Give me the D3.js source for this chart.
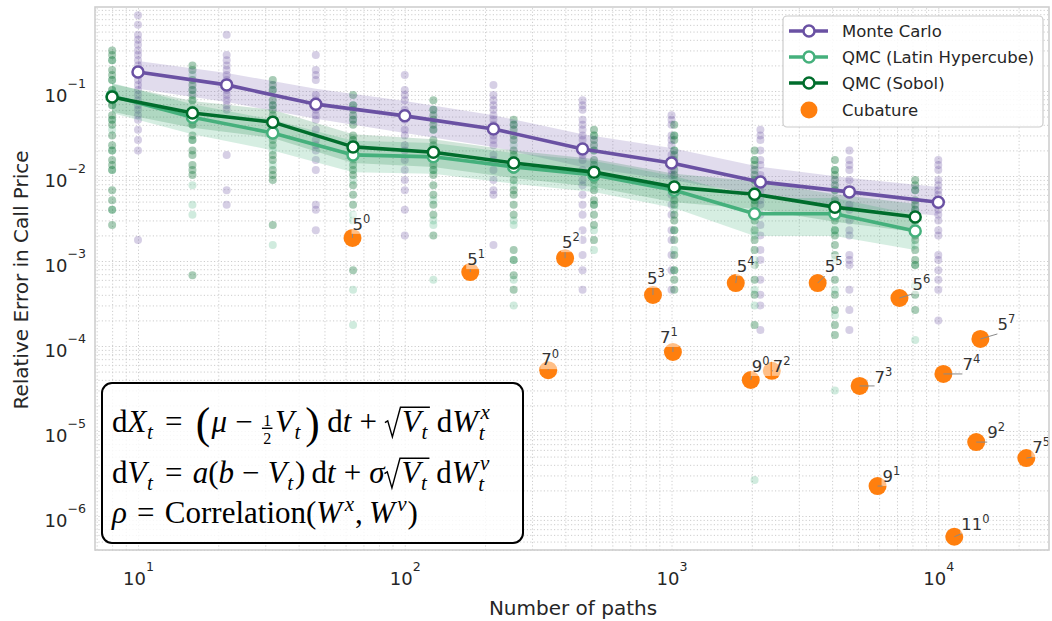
<!DOCTYPE html>
<html>
<head>
<meta charset="utf-8">
<script src="https://cdn.jsdelivr.net/npm/d3@7/dist/d3.min.js"></script>
<style>
html,body{margin:0;padding:0;background:#fff;}
svg{display:block;}
</style>
</head>
<body>
<svg id="chart" width="1052" height="621"></svg>
<script>
// ================= DATA =================
const mcPaths  = [10, 21.5, 46.4, 100, 215, 464, 1000, 2154, 4642, 10000];
const qmcPaths = [8, 16, 32, 64, 128, 256, 512, 1024, 2048, 4096, 8192];

const mcMean  = [0.167, 0.118, 0.070, 0.051, 0.0357, 0.0208, 0.0142, 0.0085, 0.0065, 0.0049];
const mcLower = [0.106, 0.074, 0.047, 0.032, 0.022, 0.0128, 0.0090, 0.0060, 0.0043, 0.0034];
const mcUpper = [0.225, 0.163, 0.106, 0.076, 0.052, 0.031, 0.0213, 0.0128, 0.0095, 0.0074];

const lhsMean  = [0.087, 0.049, 0.032, 0.0177, 0.0168, 0.0128, 0.0103, 0.0068, 0.0036, 0.0036, 0.00225];
const lhsLower = [0.055, 0.031, 0.020, 0.0111, 0.0106, 0.0081, 0.0065, 0.0042, 0.00197, 0.00197, 0.00135];
const lhsUpper = [0.124, 0.070, 0.046, 0.026, 0.0244, 0.0187, 0.015, 0.010, 0.0055, 0.0055, 0.0035];

const sobolMean  = [0.085, 0.055, 0.043, 0.022, 0.019, 0.0142, 0.0111, 0.0074, 0.0061, 0.0043, 0.0033];
const sobolLower = [0.057, 0.037, 0.028, 0.0142, 0.0128, 0.0095, 0.0074, 0.0049, 0.0041, 0.0029, 0.0022];
const sobolUpper = [0.121, 0.076, 0.060, 0.031, 0.027, 0.020, 0.0158, 0.0106, 0.0087, 0.0061, 0.0047];

// individual runs (one list per number of paths)
const mcSamples = [
  [0.78,0.60,0.46,0.40,0.35,0.30,0.265,0.23,0.20,0.177,0.154,0.135,0.118,0.103,0.090,0.078,0.068,0.060,0.052,0.046,0.035,0.0265,0.020,0.00177],
  [0.46,0.265,0.23,0.20,0.177,0.154,0.135,0.118,0.103,0.090,0.078,0.068,0.060,0.0177,0.0068,0.0046],
  [0.265,0.177,0.154,0.135,0.090,0.078,0.060,0.052,0.046,0.035,0.0265,0.023,0.020,0.0154,0.0118,0.0046,0.0040,0.0023],
  [0.154,0.103,0.090,0.078,0.060,0.052,0.046,0.035,0.030,0.023,0.020,0.0154,0.0118,0.0090,0.0068,0.0040,0.0020],
  [0.118,0.090,0.078,0.068,0.060,0.052,0.046,0.040,0.030,0.0265,0.023,0.0177,0.0154,0.0118,0.0090,0.0068,0.0060,0.00154],
  [0.078,0.068,0.060,0.046,0.040,0.035,0.030,0.0265,0.020,0.0177,0.0154,0.0118,0.0090,0.0078,0.0060,0.0046,0.0035,0.0023,0.00177,0.00118,0.00078,0.00046],
  [0.052,0.046,0.040,0.030,0.0265,0.023,0.0177,0.0154,0.0118,0.0103,0.0078,0.0060,0.0046,0.0035,0.0023,0.00177,0.00118,0.00078,0.00046],
  [0.035,0.030,0.0265,0.020,0.0154,0.0135,0.0103,0.0090,0.0068,0.0052,0.0046,0.0035,0.00265,0.0020,0.00135,0.00103,0.00060,0.00040,0.00030,0.000154],
  [0.020,0.0154,0.0135,0.0118,0.0090,0.0068,0.0060,0.0046,0.0040,0.0030,0.0023,0.0020,0.00118,0.00103,0.00090,0.00046,0.000265,0.000154],
  [0.0154,0.0135,0.0118,0.0090,0.0078,0.0068,0.0060,0.0052,0.0040,0.0035,0.0030,0.0023,0.0020,0.00118,0.00103,0.00078,0.00060,0.00046,0.00020]
];
const sobolSamples = [
  [0.30,0.265,0.23,0.177,0.154,0.135,0.103,0.090,0.078,0.068,0.052,0.046,0.040,0.030,0.023,0.020,0.0154,0.0135,0.0118,0.0068,0.0052,0.0040,0.00265],
  [0.20,0.177,0.135,0.118,0.103,0.090,0.078,0.060,0.052,0.046,0.040,0.030,0.0265,0.020,0.0177,0.0135,0.0118,0.0103,0.00068],
  [0.135,0.118,0.103,0.078,0.068,0.060,0.052,0.046,0.035,0.030,0.0265,0.023,0.0177,0.0154,0.0118,0.0103,0.0090,0.00265],
  [0.090,0.068,0.060,0.052,0.046,0.040,0.030,0.0265,0.023,0.020,0.0177,0.0135,0.0118,0.0103,0.0078,0.0060,0.0046,0.00078],
  [0.078,0.060,0.052,0.046,0.040,0.035,0.0265,0.023,0.020,0.0177,0.0135,0.0118,0.0103,0.0078,0.0060,0.0046,0.0035,0.0020],
  [0.046,0.040,0.035,0.030,0.0265,0.020,0.0177,0.0154,0.0135,0.0118,0.0090,0.0068,0.0060,0.0046,0.0035,0.00135,0.00103,0.00068,0.00046],
  [0.035,0.030,0.0265,0.023,0.020,0.0154,0.0135,0.0118,0.0103,0.0090,0.0068,0.0052,0.0046,0.0035,0.00265,0.00177],
  [0.040,0.030,0.0265,0.020,0.0177,0.0154,0.0118,0.0103,0.0078,0.0068,0.0052,0.0046,0.0035,0.0030,0.0023,0.00177,0.00118,0.00078,0.00060,0.00046],
  [0.020,0.0154,0.0135,0.0118,0.0103,0.0090,0.0068,0.0060,0.0052,0.0046,0.0035,0.0030,0.0023,0.00177,0.00135,0.00090,0.00060,0.00040,0.000177],
  [0.0154,0.0118,0.0103,0.0090,0.0078,0.0068,0.0052,0.0046,0.0040,0.0030,0.0023,0.0020,0.00154,0.00118,0.00060,0.00040,0.000265,0.000177,0.000135],
  [0.0090,0.0078,0.0068,0.0052,0.0046,0.0040,0.0035,0.0030,0.0023,0.0020,0.00177,0.00135,0.00103,0.00090,0.00040,0.000265]
];
const lhsSamples = [
  [0.23,0.135,0.103,0.068,0.046,0.035,0.020,0.0118,0.0040],
  [0.154,0.103,0.078,0.060,0.040,0.0265,0.0078,0.0046,0.0035],
  [0.103,0.068,0.046,0.030,0.020,0.0135,0.00154],
  [0.068,0.046,0.0265,0.0154,0.0090,0.0035,0.0030,0.00046,0.000177],
  [0.060,0.035,0.020,0.0118,0.0052,0.0030,0.00265,0.00060],
  [0.040,0.023,0.0135,0.0078,0.0030,0.00265,0.00103,0.00060,0.00030],
  [0.030,0.020,0.0118,0.0078,0.0046,0.0023,0.00135],
  [0.030,0.020,0.0135,0.0090,0.0060,0.0040,0.0023,0.00135,0.00078],
  [0.0154,0.0090,0.0052,0.0035,0.0020,0.00103,0.00046,0.00030,0.00000265],
  [0.0118,0.0068,0.0040,0.0023,0.00103,0.00046,0.00023,0.000030],
  [0.0068,0.0040,0.00265,0.00154,0.00090,0.00052,0.000118]
];

// cubature results: label = base^exponent
const cubBase  = [5, 5, 5, 5, 5, 5, 5, 5, 7, 7, 7, 7, 7, 7, 9, 9, 9, 11];
const cubExp   = [0, 1, 2, 3, 4, 5, 6, 7, 0, 1, 2, 3, 4, 5, 0, 1, 2, 0];
const cubPaths = [63.7, 176, 399, 852, 1741, 3530, 7150, 14380, 345, 1012, 2377, 5070, 10450, 21380, 1982, 5920, 13870, 11480];
const cubError = [1.87e-3, 7.4e-4, 1.08e-3, 3.98e-4, 5.5e-4, 5.5e-4, 3.67e-4, 1.21e-4, 5.2e-5, 8.5e-5, 5.1e-5, 3.39e-5, 4.69e-5, 4.8e-6, 3.98e-5, 2.25e-6, 7.4e-6, 5.7e-7];

const xTickValues = [10, 100, 1000, 10000];
const yTickValues = [1e-6, 1e-5, 1e-4, 1e-3, 1e-2, 1e-1];
const legendLabels = ["Monte Carlo", "QMC (Latin Hypercube)", "QMC (Sobol)", "Cubature"];

// ================= LAYOUT / STYLE =================
// label placement (text start / baseline offset from its point, px) – layout only
const cubLabelOffset = [[0,-8],[-3,-7],[-3,-10],[-6,-11],[1,-11],[7,-11],[13,-8],[17,-9],
                        [-7,-5],[-13,-9],[1,1],[15,-3],[19,-4],[6,-5],[1,-8],[5,-4],[11,-4],[7,-7]];

const W = 1052, H = 621;
const L = 95, R = 1049, T = 7, B = 550;
const sans = "'DejaVu Sans', 'Liberation Sans', sans-serif";
const serif = "'Liberation Serif', 'DejaVu Serif', serif";
const ink = "#262626";
const cMC = "#6a51a3", cLHS = "#45b07c", cSobol = "#006d2c", cCub = "#ff7f0e";

const svg = d3.select("#chart");
const x = d3.scaleLog().domain([6.9, 26000]).range([L, R]);
const y = d3.scaleLog().domain([3.98e-7, 0.973]).range([B, T]);

svg.append("rect").attr("width", W).attr("height", H).attr("fill", "#fff");
svg.append("defs").append("clipPath").attr("id", "clip")
  .append("rect").attr("x", L).attr("y", T).attr("width", R - L).attr("height", B - T);

function logGrid(lo, hi) {
  const out = [];
  for (let e = Math.floor(Math.log10(lo)); e <= Math.ceil(Math.log10(hi)); e++)
    for (let k = 1; k <= 9; k++) { const v = k * Math.pow(10, e); if (v >= lo && v <= hi) out.push(v); }
  return out;
}

// grid
const gx = svg.append("g").attr("transform", `translate(0,${B})`)
  .call(d3.axisBottom(x).tickValues(logGrid(6.9, 26000)).tickSize(-(B - T)).tickFormat(""));
gx.select(".domain").remove();
gx.selectAll(".tick line").attr("stroke", "#cdcdcd").attr("stroke-width", 1).attr("stroke-dasharray", "1.2,2.2");
const gy = svg.append("g").attr("transform", `translate(${L},0)`)
  .call(d3.axisLeft(y).tickValues(logGrid(3.98e-7, 0.973)).tickSize(-(R - L)).tickFormat(""));
gy.select(".domain").remove();
gy.selectAll(".tick line").attr("stroke", "#cdcdcd").attr("stroke-width", 1).attr("stroke-dasharray", "1.2,2.2");

// tick labels
const xl = svg.append("g").attr("transform", `translate(0,${B})`)
  .call(d3.axisBottom(x).tickValues(xTickValues).tickSize(0).tickPadding(0).tickFormat(""));
xl.select(".domain").remove();
xl.selectAll(".tick text").each(function(d) {
  const t = d3.select(this).attr("y", 35).attr("dy", null).attr("font-size", 18)
    .attr("font-family", sans).attr("fill", ink).attr("text-anchor", "middle");
  t.append("tspan").text("10");
  t.append("tspan").attr("dy", -14).attr("font-size", 12.6).text(String(Math.round(Math.log10(d))));
});
const yl = svg.append("g").attr("transform", `translate(${L},0)`)
  .call(d3.axisLeft(y).tickValues(yTickValues).tickSize(0).tickPadding(0).tickFormat(""));
yl.select(".domain").remove();
yl.selectAll(".tick text").each(function(d) {
  const t = d3.select(this).attr("x", -9).attr("y", 11).attr("dy", null).attr("font-size", 18)
    .attr("font-family", sans).attr("fill", ink).attr("text-anchor", "end");
  t.append("tspan").text("10");
  t.append("tspan").attr("dy", -14).attr("font-size", 12.6).text("\u2212" + String(-Math.round(Math.log10(d))));
});

// axis titles
svg.append("text").attr("x", 573).attr("y", 615).attr("text-anchor", "middle")
  .attr("font-family", sans).attr("font-size", 20).attr("fill", ink).text("Number of paths");
svg.append("text").attr("transform", "translate(28,280) rotate(-90)").attr("text-anchor", "middle")
  .attr("font-family", sans).attr("font-size", 20).attr("fill", ink).text("Relative Error in Call Price");

const plot = svg.append("g").attr("clip-path", "url(#clip)");

// scatter of individual runs
function scatter(samples, paths, color, op) {
  const pts = [];
  samples.forEach((arr, i) => arr.forEach(v => pts.push({ n: paths[i], v })));
  plot.append("g").selectAll("circle").data(pts).join("circle")
    .attr("cx", d => x(d.n)).attr("cy", d => y(d.v)).attr("r", 4)
    .attr("fill", color).attr("fill-opacity", op);
}
scatter(mcSamples, mcPaths, cMC, 0.28);
scatter(lhsSamples, qmcPaths, cLHS, 0.25);
scatter(sobolSamples, qmcPaths, "#1b7a3e", 0.38);

// bands
function band(paths, lo, hi, color, op) {
  const data = paths.map((n, i) => ({ n, lo: lo[i], hi: hi[i] }));
  plot.append("path").datum(data)
    .attr("d", d3.area().x(d => x(d.n)).y0(d => y(d.lo)).y1(d => y(d.hi)))
    .attr("fill", color).attr("fill-opacity", op);
}
band(mcPaths, mcLower, mcUpper, cMC, 0.2);
band(qmcPaths, lhsLower, lhsUpper, cLHS, 0.22);
band(qmcPaths, sobolLower, sobolUpper, cSobol, 0.18);

// mean lines
function meanLine(paths, vals, color) {
  const data = paths.map((n, i) => ({ n, v: vals[i] }));
  plot.append("path").datum(data)
    .attr("d", d3.line().x(d => x(d.n)).y(d => y(d.v)))
    .attr("fill", "none").attr("stroke", color).attr("stroke-width", 3.6).attr("stroke-linejoin", "round");
  plot.append("g").selectAll("circle").data(data).join("circle")
    .attr("cx", d => x(d.n)).attr("cy", d => y(d.v)).attr("r", 5.5)
    .attr("fill", "#fff").attr("stroke", color).attr("stroke-width", 2.5);
}
meanLine(mcPaths, mcMean, cMC);
meanLine(qmcPaths, lhsMean, cLHS);
meanLine(qmcPaths, sobolMean, cSobol);

// cubature
const cub = cubPaths.map((n, i) => ({ n, v: cubError[i], b: cubBase[i], e: cubExp[i], off: cubLabelOffset[i] }));
plot.append("g").selectAll("circle").data(cub).join("circle")
  .attr("cx", d => x(d.n)).attr("cy", d => y(d.v)).attr("r", 9).attr("fill", cCub);

const labG = svg.append("g");
cub.forEach(d => {
  const px = x(d.n), py = y(d.v);
  const g = labG.append("g");
  const rect = g.append("rect");
  const t = g.append("text").attr("x", px + d.off[0]).attr("y", py + d.off[1])
    .attr("font-family", sans).attr("font-size", 16.5).attr("fill", "#333");
  t.append("tspan").text(String(d.b));
  t.append("tspan").attr("dy", -7).attr("font-size", 11.5).text(String(d.e));
  const bb = t.node().getBBox();
  rect.attr("x", bb.x - 1).attr("y", bb.y).attr("width", bb.width + 2).attr("height", bb.height)
    .attr("fill", "#fff").attr("fill-opacity", 0.5);
  const cx = Math.max(bb.x, Math.min(px, bb.x + bb.width));
  const cy = Math.max(bb.y, Math.min(py, bb.y + bb.height));
  g.append("line").attr("x1", px).attr("y1", py).attr("x2", cx).attr("y2", cy)
    .attr("stroke", "#8a8a8a").attr("stroke-width", 1);
});

// ---------- formula box ----------
svg.append("rect").attr("x", 102).attr("y", 383).attr("width", 421).attr("height", 160).attr("rx", 10)
  .attr("fill", "#fff").attr("fill-opacity", 0.82).attr("stroke", "#000").attr("stroke-width", 2);

function mathLine(g, x0, base, items, fs) {
  let cx = x0;
  const txt = (s, xx, yy, size, ital, anchor) => {
    const t = g.append("text").attr("x", xx).attr("y", yy).attr("font-size", size)
      .attr("font-family", serif).attr("fill", "#000").text(s);
    if (ital) t.attr("font-style", "italic");
    if (anchor) t.attr("text-anchor", anchor);
    return t.node().getComputedTextLength();
  };
  for (const it of items) {
    if (it.sp !== undefined) { cx += it.sp * fs; continue; }
    if (it.t !== undefined) { cx += txt(it.t, cx, base, fs, it.i); continue; }
    if (it.sub !== undefined) { cx += 0.02 * fs; cx += txt(it.sub, cx, base + 0.22 * fs, 0.68 * fs, true) + 0.06 * fs; continue; }
    if (it.sup !== undefined) { cx += 0.08 * fs; cx += txt(it.sup, cx, base - 0.4 * fs, 0.68 * fs, true) + 0.03 * fs; continue; }
    if (it.subsup) {
      const w1 = txt(it.subsup[0], cx + 0.02 * fs, base + 0.25 * fs, 0.68 * fs, true);
      const w2 = txt(it.subsup[1], cx + 0.08 * fs, base - 0.42 * fs, 0.68 * fs, true);
      cx += Math.max(w1 + 0.02 * fs, w2 + 0.08 * fs); continue;
    }
    if (it.big !== undefined) { cx += 0.1 * fs; cx += txt(it.big, cx, base + 0.2 * fs, 1.4 * fs, false) + 0.04 * fs; continue; }
    if (it.frac) {
      const s = 0.52 * fs;
      const tmp = g.append("text").attr("font-size", s).attr("font-family", serif).text(it.frac[0]);
      const wn = tmp.node().getComputedTextLength(); tmp.remove();
      const tmp2 = g.append("text").attr("font-size", s).attr("font-family", serif).text(it.frac[1]);
      const wd = tmp2.node().getComputedTextLength(); tmp2.remove();
      const w = Math.max(wn, wd) + 0.16 * fs;
      const mid = cx + w / 2;
      txt(it.frac[0], mid, base - 0.2 * fs, s, false, "middle");
      txt(it.frac[1], mid, base + 0.4 * fs, s, false, "middle");
      g.append("line").attr("x1", cx + 0.04 * fs).attr("x2", cx + w - 0.04 * fs)
        .attr("y1", base - 0.12 * fs).attr("y2", base - 0.12 * fs).attr("stroke", "#000").attr("stroke-width", 0.045 * fs);
      cx += w + 0.04 * fs; continue;
    }
    if (it.sqrt) {
      const x1 = cx;
      const end = mathLine(g, x1 + 0.55 * fs, base, it.sqrt, fs);
      const top = base - 0.8 * fs;
      g.append("path")
        .attr("d", `M${x1},${base - 0.3 * fs} L${x1 + 0.09 * fs},${base - 0.36 * fs} L${x1 + 0.24 * fs},${base + 0.16 * fs} L${x1 + 0.5 * fs},${top} L${end + 0.02 * fs},${top}`)
        .attr("fill", "none").attr("stroke", "#000").attr("stroke-width", 0.045 * fs).attr("stroke-linejoin", "miter");
      cx = end + 0.04 * fs; continue;
    }
  }
  return cx;
}

const rel = 0.33, bin = 0.26, thin = 0.2;
const line1 = [{t:"d"},{t:"X",i:1},{sub:"t"},{sp:rel},{t:"="},{sp:rel},{big:"("},{t:"\u03bc",i:1},{sp:bin},{t:"\u2212"},{sp:bin},
  {frac:["1","2"]},{t:"V",i:1},{sub:"t"},{big:")"},{sp:thin},{t:"d"},{t:"t",i:1},{sp:bin},{t:"+"},{sp:bin},
  {sqrt:[{t:"V",i:1},{sub:"t"}]},{sp:thin},{t:"d"},{t:"W",i:1},{subsup:["t","x"]}];
const line2 = [{t:"d"},{t:"V",i:1},{sub:"t"},{sp:rel},{t:"="},{sp:rel},{t:"a",i:1},{t:"("},{t:"b",i:1},{sp:bin},{t:"\u2212"},{sp:bin},
  {t:"V",i:1},{sub:"t"},{t:")"},{sp:thin},{t:"d"},{t:"t",i:1},{sp:bin},{t:"+"},{sp:bin},{t:"\u03c3",i:1},
  {sqrt:[{t:"V",i:1},{sub:"t"}]},{sp:thin},{t:"d"},{t:"W",i:1},{subsup:["t","v"]}];
const line3 = [{t:"\u03c1",i:1},{sp:rel},{t:"="},{sp:rel},{t:"Correlation"},{t:"("},{t:"W",i:1},{sup:"x"},{t:","},{sp:thin},
  {t:"W",i:1},{sup:"v"},{t:")"}];

const fs = 31;
const mg = svg.append("g");
mathLine(mg, 112, 432, line1, fs);
mathLine(mg, 112, 483, line2, fs);
mathLine(mg, 112, 523, line3, fs);

// ---------- legend ----------
const lg = svg.append("g");
lg.append("rect").attr("x", 783).attr("y", 16).attr("width", 260).attr("height", 111).attr("rx", 4)
  .attr("fill", "#fff").attr("fill-opacity", 0.85).attr("stroke", "#cccccc").attr("stroke-width", 1.2);
const legColors = [cMC, cLHS, cSobol, cCub];
const rows = [31, 57, 83, 110];
legendLabels.forEach((lab, i) => {
  const ry = rows[i];
  if (i < 3) {
    lg.append("line").attr("x1", 789).attr("x2", 828).attr("y1", ry).attr("y2", ry)
      .attr("stroke", legColors[i]).attr("stroke-width", 3.6);
    lg.append("circle").attr("cx", 809).attr("cy", ry).attr("r", 5.5).attr("fill", "#fff")
      .attr("stroke", legColors[i]).attr("stroke-width", 2.5);
  } else {
    lg.append("circle").attr("cx", 809).attr("cy", ry).attr("r", 8.5).attr("fill", legColors[i]);
  }
  lg.append("text").attr("x", 842).attr("y", ry + 6).attr("font-family", sans).attr("font-size", 16.5)
    .attr("fill", ink).text(lab);
});

// frame
svg.append("rect").attr("x", L).attr("y", T).attr("width", R - L).attr("height", B - T)
  .attr("fill", "none").attr("stroke", "#cfcfcf").attr("stroke-width", 1.6);
</script>
</body>
</html>
